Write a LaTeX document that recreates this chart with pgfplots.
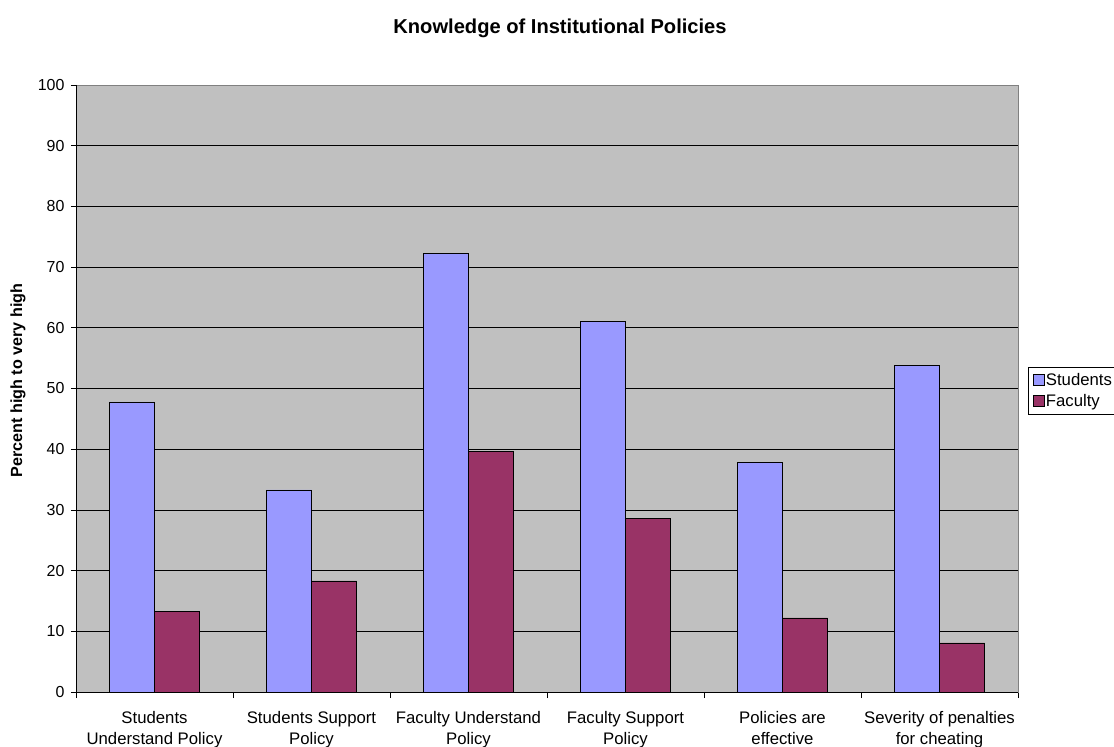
\documentclass[border=0pt]{standalone}
\usepackage{pgfplots}
\pgfplotsset{compat=1.18}
\usepackage{fontspec}
\setmainfont{Liberation Sans}

\definecolor{studentsblue}{HTML}{9999FF}
\definecolor{facultyplum}{HTML}{993366}
\definecolor{plotgray}{HTML}{C0C0C0}
\definecolor{framegray}{HTML}{808080}

\begin{document}
\begin{tikzpicture}
\begin{axis}[
  name=ax,
  at={(0,0)}, anchor=south west,
  scale only axis,
  width=942bp, height=607bp,
  xmin=-0.5, xmax=5.5,
  ymin=0, ymax=100,
  ytick={0,10,...,100},
  xtick={0,...,5},
  xticklabels={Students\\Understand Policy, Students Support\\Policy, Faculty Understand\\Policy, Faculty Support\\Policy, Policies are\\effective, Severity of penalties\\for cheating},
  minor xtick={-0.5,0.5,...,5.5},
  major x tick style={draw=none},
  xtick pos=bottom, ytick pos=left,
  tick align=outside,
  major tick length=5bp,
  minor tick length=6bp,
  tick style={black, line width=0.6pt},
  xticklabel style={align=center, font=\fontsize{16.8}{20.7}\selectfont, yshift=-11bp},
  yticklabel style={font=\fontsize{16}{18}\selectfont, xshift=-3bp},
  /pgf/number format/assume math mode=true,
  axis background/.style={fill=plotgray},
  axis line style={framegray, line width=0.6pt},
  ymajorgrids,
  major grid style={black, line width=0.6pt},
  title={Knowledge of Institutional Policies},
  title style={font=\fontsize{20.2}{22}\selectfont\bfseries, at={(axis description cs:0.5,1)}, anchor=base, yshift=46bp, xshift=13bp},
  ylabel={Percent high to very high},
  ylabel style={font=\fontsize{16.2}{18}\selectfont\bfseries, at={(axis description cs:-0.0616,0.513)}, anchor=center},
  legend style={at={(axis description cs:1.0106,0.5354)}, anchor=north west, draw=black, line width=0.6pt, fill=white, font=\fontsize{16.8}{19}\selectfont, inner sep=5bp, row sep=5.5bp, legend cell align=left, nodes={inner sep=1bp}},
  ybar,
  legend image code/.code={\draw[#1, draw=black, line width=0.6pt] (0bp,-5.5bp) rectangle (11bp,5.5bp);},
  bar width=0.287,
]
% Students
\addplot[fill=studentsblue, draw=black, line width=0.6pt, bar shift=-0.1435]
  coordinates {(0,47.8) (1,33.3) (2,72.3) (3,61.1) (4,37.8) (5,53.8)};
% Faculty
\addplot[fill=facultyplum, draw=black, line width=0.6pt, bar shift=0.1435]
  coordinates {(0,13.3) (1,18.3) (2,39.6) (3,28.6) (4,12.2) (5,8.1)};
\legend{Students, Faculty}
% left and bottom axis lines in black
\draw[black, line width=0.6pt] (rel axis cs:0,1) -- (rel axis cs:0,0) -- (rel axis cs:1,0);
\end{axis}
\pgfresetboundingbox
\useasboundingbox (-76bp,-55bp) rectangle (1038bp,692bp);
\end{tikzpicture}
\end{document}
